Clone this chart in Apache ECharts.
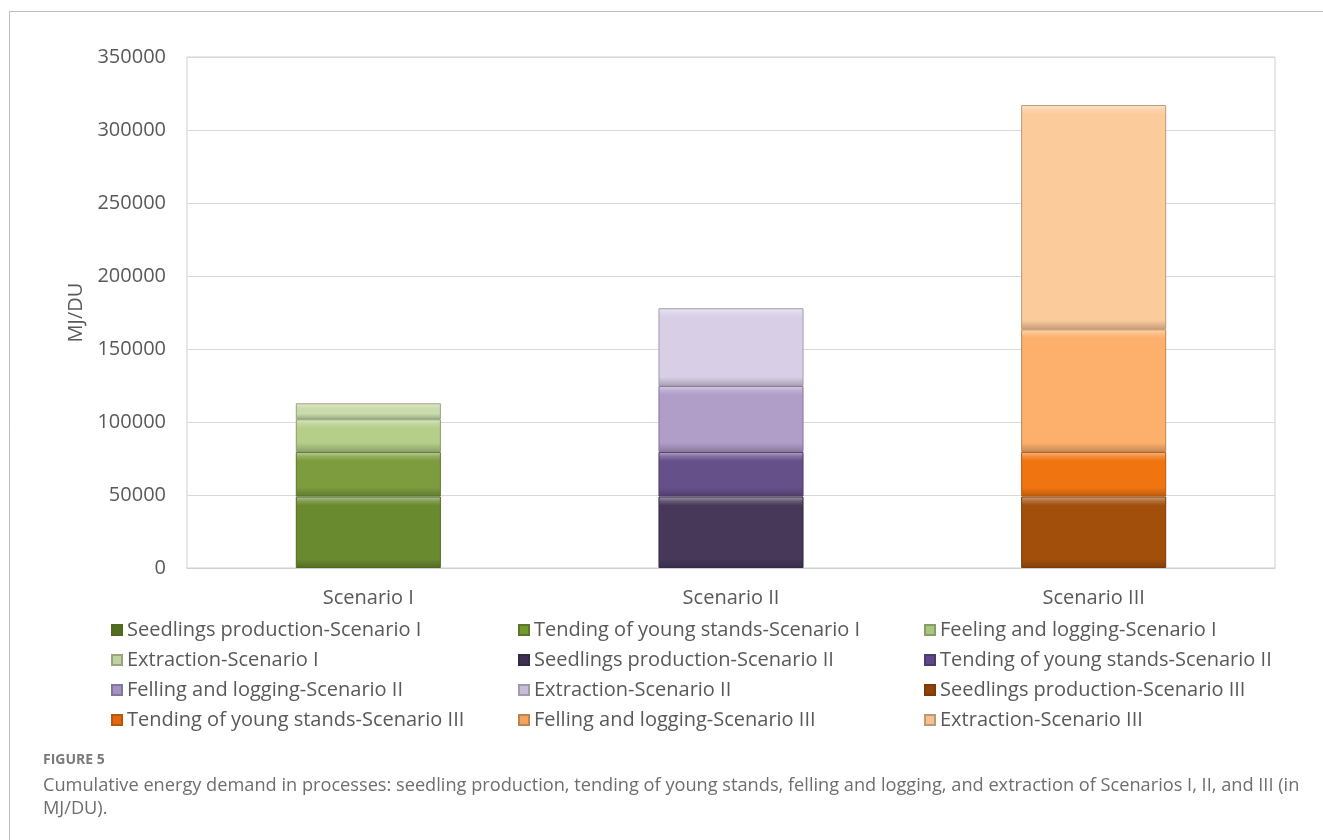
<!DOCTYPE html>
<html>
<head>
<meta charset="utf-8">
<script src="https://cdn.jsdelivr.net/npm/echarts@6/dist/echarts.min.js"></script>
<style>
  html, body { margin: 0; padding: 0; background: #ffffff; }
  #chart { width: 1323px; height: 840px; }
</style>
</head>
<body>
<div id="chart"></div>
<script>
// ---- data ----
var categories = ['Scenario I', 'Scenario II', 'Scenario III'];
var seedlings  = [49000, 49000, 49000];
var tending    = [30500, 30500, 30500];
var felling    = [22400, 45200, 84000];
var extraction = [10900, 53200, 153600];
var yTicks = [0, 50000, 100000, 150000, 200000, 250000, 300000, 350000];

var processNamesI = ['Seedlings production', 'Tending of young stands', 'Feeling and logging', 'Extraction'];
var processNames  = ['Seedlings production', 'Tending of young stands', 'Felling and logging', 'Extraction'];
var scenarioSuffix = ['Scenario I', 'Scenario II', 'Scenario III'];

// ---- styles ----
var palette = [
  ['#6a8a30', '#7c9c3d', '#b5ce8a', '#c9dbaa'],
  ['#47385a', '#66508a', '#b09dc8', '#d8cfe6'],
  ['#a24f0b', '#f07511', '#fcb06c', '#fccb9c']
];
var legendPalette = [
  ['#4f6e1e', '#6f9a2c', '#a9c77a', '#bfd3a0'],
  ['#3e2f55', '#5e4788', '#a592c4', '#c7bdd9'],
  ['#8f420a', '#e0680e', '#f5a35c', '#f5c18f']
];

function shade(hex, amt) {
  var n = parseInt(hex.slice(1), 16);
  var r = (n >> 16) & 255, g = (n >> 8) & 255, b = n & 255;
  function f(c) { return Math.max(0, Math.min(255, Math.round(amt >= 0 ? c + (255 - c) * amt : c * (1 + amt)))); }
  return 'rgb(' + f(r) + ',' + f(g) + ',' + f(b) + ')';
}

var plotH = 511, yMax = yTicks[yTicks.length - 1];
function bevel(base, value) {
  var h = value / yMax * plotH;
  var t = Math.min(0.35, 9 / h);
  return {
    type: 'linear', x: 0, y: 0, x2: 0, y2: 1,
    colorStops: [
      { offset: 0, color: shade(base, 0.5) },
      { offset: t * 0.5, color: shade(base, 0.18) },
      { offset: t, color: base },
      { offset: 1 - t, color: base },
      { offset: 1, color: shade(base, -0.22) }
    ]
  };
}

var allValues = [seedlings, tending, felling, extraction];
var series = [];
for (var s = 0; s < 3; s++) {
  for (var p = 0; p < 4; p++) {
    var nm = (s === 0 ? processNamesI[p] : processNames[p]) + '-' + scenarioSuffix[s];
    var data = categories.map(function (c, i) { return i === s ? allValues[p][i] : '-'; });
    series.push({
      name: nm,
      type: 'bar',
      stack: 'total',
      barWidth: '40%',
      data: data,
      itemStyle: {
        color: bevel(palette[s][p], allValues[p][s]),
        borderColor: shade(palette[s][p], -0.25),
        borderWidth: 1
      },
      emphasis: { disabled: true }
    });
  }
}

var names = series.map(function (x) { return x.name; });
var legendItem = function (idx) {
  var s = Math.floor(idx / 4), p = idx % 4;
  return { name: names[idx], itemStyle: { color: legendPalette[s][p] } };
};
var cols = [[], [], []];
for (var i = 0; i < 12; i++) cols[i % 3].push(legendItem(i));
var colX = [106, 513, 919];
var legends = cols.map(function (col, c) {
  return {
    orient: 'vertical',
    left: colX[c],
    top: 614,
    itemWidth: 10,
    itemHeight: 10,
    itemGap: 8,
    icon: 'rect',
    selectedMode: false,
    data: col,
    textStyle: { fontFamily: 'Open Sans', fontSize: 20, color: '#595959', lineHeight: 22, padding: [0, 0, 0, 0] }
  };
});

var chart = echarts.init(document.getElementById('chart'), null, { renderer: 'canvas' });
chart.setOption({
  animation: false,
  backgroundColor: '#ffffff',
  grid: { left: 187, top: 57, right: 48, bottom: 272, show: true, borderColor: '#d0d0d0', borderWidth: 1 },
  legend: legends,
  xAxis: {
    type: 'category',
    data: categories,
    axisLine: { show: true, lineStyle: { color: '#d0d0d0' } },
    axisTick: { show: false },
    axisLabel: { fontFamily: 'Open Sans', fontSize: 20, color: '#595959', margin: 20 }
  },
  yAxis: {
    type: 'value',
    min: yTicks[0],
    max: yMax,
    interval: yTicks[1] - yTicks[0],
    name: 'MJ/DU',
    nameLocation: 'middle',
    nameGap: 96,
    nameTextStyle: { fontFamily: 'Open Sans', fontSize: 20, color: '#595959' },
    axisLine: { show: false },
    axisTick: { show: false },
    splitLine: { lineStyle: { color: '#d9d9d9' } },
    axisLabel: { fontFamily: 'Open Sans', fontSize: 20, color: '#595959', margin: 21, formatter: function (v) { return String(v); } }
  },
  graphic: [
    { type: 'polyline', silent: true, shape: { points: [[9.5, 840], [9.5, 11.5], [1323, 11.5]] }, style: { stroke: '#bdbdbd', lineWidth: 1, fill: null } },
    { type: 'text', left: 43, top: 753, silent: true, style: { text: 'FIGURE 5', fontFamily: 'Open Sans', fontWeight: 'bold', fontSize: 14, fill: '#7a7a7a' } },
    { type: 'text', left: 43, top: 774, silent: true, style: { text: 'Cumulative energy demand in processes: seedling production, tending of young stands, felling and logging, and extraction of Scenarios I, II, and III (in\nMJ/DU).', fontFamily: 'Open Sans', fontSize: 18.2, lineHeight: 23, fill: '#6e6e6e' } }
  ],
  series: series
});
</script>
</body>
</html>
